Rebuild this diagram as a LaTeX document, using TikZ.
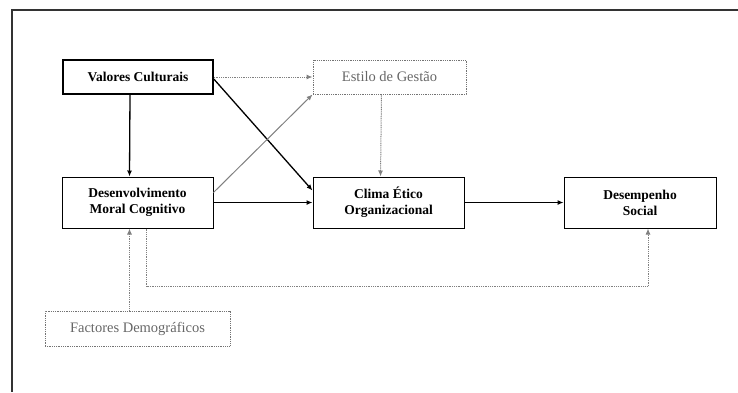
\documentclass[tikz,border=0pt]{standalone}
\usepackage{fontspec}
\setmainfont{Liberation Serif}
\usetikzlibrary{arrows.meta}

\begin{document}
\begin{tikzpicture}[x=1pt, y=-1pt,
        box/.style={draw, line width=1pt, align=center, inner sep=0pt,
            font=\fontsize{13.5}{16}\selectfont\bfseries},
        greybox/.style={draw=black!55, line width=1pt, dash pattern=on 1pt off 0.8pt,
            text=black!60, align=center, inner sep=0pt,
            font=\fontsize{14.5}{17}\selectfont},
        solidarrow/.style={line width=1.3pt, -{Latex[length=6pt, width=5pt]}},
        dotarrow/.style={draw=black!50, line width=1pt, dash pattern=on 1pt off 0.8pt,
            -{Latex[length=6pt, width=5pt, fill=black!50]}}]

        \useasboundingbox (0, 0) rectangle (738, 392);
        \draw [line width=1.8pt, black!80] (738, 10) -- (12, 10) -- (12, 392);

        \node (valores) at (138, 77) [box, line width=1.6pt, minimum width=150, minimum height=34] {Valores Culturais};
        \node (estilo) at (389.5, 77) [greybox, minimum width=153, minimum height=34] {Estilo de Gestão};

        \node (desenv) at (137.5, 202.5) [box, minimum width=151, minimum height=51] {Desenvolvimento \\ Moral Cognitivo};
        \node (clima) at (388.5, 202.5) [box, minimum width=151, minimum height=51] {Clima Ético \\ Organizacional};
        \node (desemp) at (640, 202.5) [box, minimum width=152, minimum height=51] {Desempenho \\ Social};

        \node (factores) at (137.5, 328.5) [greybox, minimum width=185, minimum height=35] {Factores Demográficos};

        \draw [solidarrow] ([xshift=-8pt]valores.south) -- ([xshift=-8pt]desenv.north);
        \draw [solidarrow] ([yshift=-2pt]valores.east) -- ([yshift=12pt]clima.west);
        \draw [solidarrow] (desenv.east) -- (clima.west);
        \draw [solidarrow, line width=1.1pt] (clima.east) -- (desemp.west);

        \draw [dotarrow] (valores.east) -- (estilo.west);
        \draw [dotarrow] ([xshift=-8pt]estilo.south) -- ([xshift=-8pt]clima.north);
        \draw [dotarrow, dash pattern=] ([yshift=10pt]desenv.east) -- (estilo.south west);
        \draw [dotarrow] ([xshift=-8pt]factores.north) -- ([xshift=-8pt]desenv.south);
        \draw [dotarrow] ([xshift=9pt]desenv.south) -- ++(0, 58) -| ([xshift=8pt]desemp.south);
    \end{tikzpicture}
\end{document}
